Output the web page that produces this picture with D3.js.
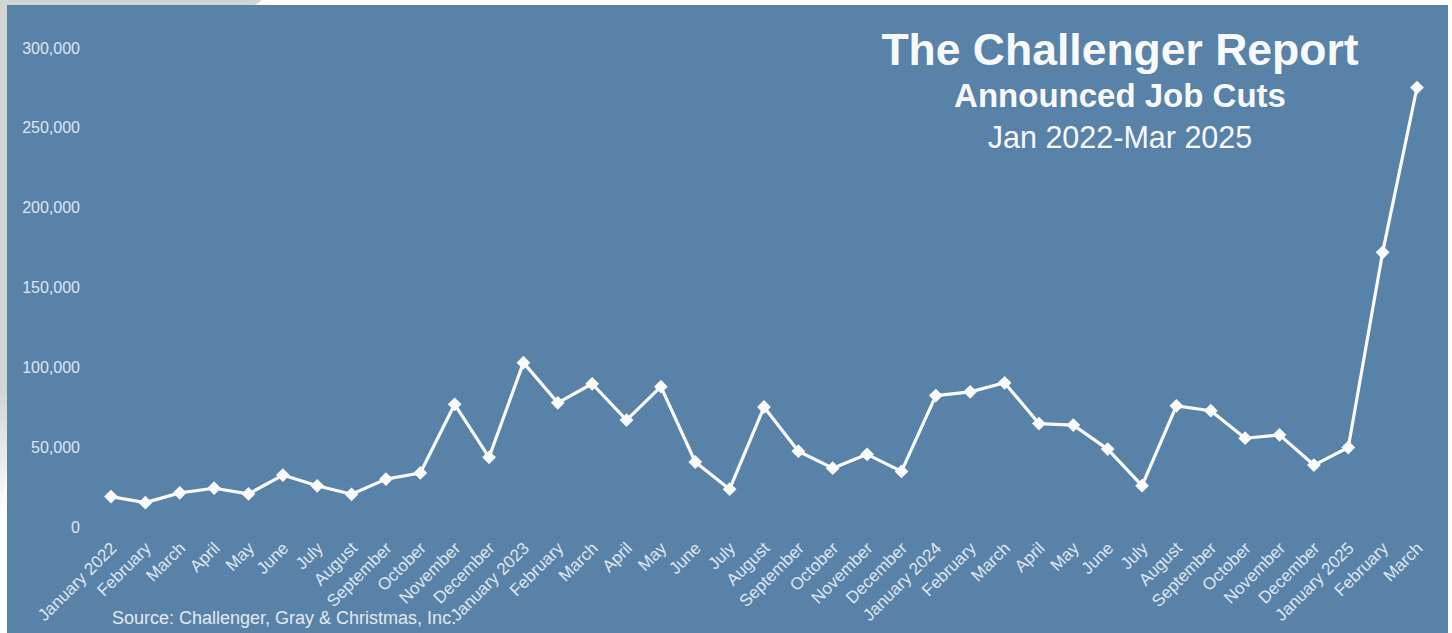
<!DOCTYPE html>
<html>
<head>
<meta charset="utf-8">
<script src="https://cdn.jsdelivr.net/npm/d3@7"></script>
<style>
  html, body { margin: 0; padding: 0; background: #ffffff; }
  svg { display: block; font-family: "Liberation Sans", Arial, sans-serif; }
</style>
</head>
<body>
<svg id="chart" width="1452" height="633"></svg>
<script>
const months = [
  "January 2022","February","March","April","May","June","July","August","September","October","November","December",
  "January 2023","February","March","April","May","June","July","August","September","October","November","December",
  "January 2024","February","March","April","May","June","July","August","September","October","November","December",
  "January 2025","February","March"
];
const jobCuts = [
  19064, 15245, 21387, 24286, 20712, 32517, 25810, 20485, 29989, 33843, 76835, 43651,
  102943, 77770, 89703, 66995, 87900, 40709, 23697, 75151, 47457, 36836, 45510, 34817,
  82307, 84638, 90309, 64789, 63816, 48786, 25885, 75891, 72821, 55597, 57727, 38792,
  49795, 172017, 275240
];
const yTicks = [0, 50000, 100000, 150000, 200000, 250000, 300000];
const titleLines = ["The Challenger Report", "Announced Job Cuts", "Jan 2022-Mar 2025"];
const sourceText = "Source: Challenger, Gray & Christmas, Inc.";

const svg = d3.select("#chart");
const W = 1452, H = 633;

// page frame (screenshot edge)
const defs = svg.append("defs");
const g1 = defs.append("linearGradient").attr("id", "leftFade").attr("x1", 0).attr("y1", 0).attr("x2", 0).attr("y2", 1);
g1.append("stop").attr("offset", "0.75").attr("stop-color", "#d2d6d2");
g1.append("stop").attr("offset", "1").attr("stop-color", "#ffffff");
svg.append("rect").attr("x", 0).attr("y", 0).attr("width", W).attr("height", H).attr("fill", "#ffffff");
svg.append("polygon").attr("points", "0,0 262,0 255,5 7,5 7,470 0,520").attr("fill", "url(#leftFade)");

// panel
svg.append("rect").attr("x", 7).attr("y", 5).attr("width", 1441).attr("height", H - 5).attr("fill", "#5982a9");

const x = d3.scalePoint().domain(d3.range(months.length)).range([111, 1417]);
const y = d3.scaleLinear().domain([0, 300000]).range([527, 48]);

// y axis
const yAxis = svg.append("g").attr("transform", "translate(80,0)")
  .call(d3.axisLeft(y).tickValues(yTicks).tickFormat(d3.format(",")).tickSize(0).tickPadding(0));
yAxis.select(".domain").remove();
yAxis.selectAll("text").attr("fill", "#dfe6ee").style("font-size", "16px")
  .style("font-family", "'Liberation Sans', Arial, sans-serif");

// x axis
const xAxis = svg.append("g").attr("transform", "translate(0,534)")
  .call(d3.axisBottom(x).tickFormat(i => months[i]).tickSize(0).tickPadding(0));
xAxis.select(".domain").remove();
xAxis.selectAll("text")
  .attr("fill", "#dfe6ee").style("font-size", "17px")
  .style("font-family", "'Liberation Sans', Arial, sans-serif")
  .attr("text-anchor", "end")
  .attr("dy", "0.35em").attr("dx", "0")
  .attr("transform", "translate(2,11) rotate(-45)");

// line
const line = d3.line().x((d, i) => x(i)).y(d => y(d));
svg.append("path").datum(jobCuts).attr("d", line)
  .attr("fill", "none").attr("stroke", "#fafafa").attr("stroke-width", 3.2).attr("stroke-linejoin", "round");

// markers
svg.append("g").selectAll("path").data(jobCuts).join("path")
  .attr("d", d3.symbol(d3.symbolSquare, 95))
  .attr("transform", (d, i) => `translate(${x(i)},${y(d)}) rotate(45)`)
  .attr("fill", "#fafafa");

// titles
svg.append("text").attr("x", 1120).attr("y", 65).attr("text-anchor", "middle")
  .attr("fill", "#f8f9fb").style("font-size", "44.5px").style("font-weight", "bold").text(titleLines[0]);
svg.append("text").attr("x", 1120).attr("y", 107).attr("text-anchor", "middle")
  .attr("fill", "#f8f9fb").style("font-size", "33px").style("font-weight", "bold").text(titleLines[1]);
svg.append("text").attr("x", 1120).attr("y", 148).attr("text-anchor", "middle")
  .attr("fill", "#f8f9fb").style("font-size", "30.5px").text(titleLines[2]);

// source
svg.append("text").attr("x", 112).attr("y", 624).attr("fill", "#e4e9f0")
  .style("font-size", "18px").text(sourceText);
</script>
</body>
</html>
